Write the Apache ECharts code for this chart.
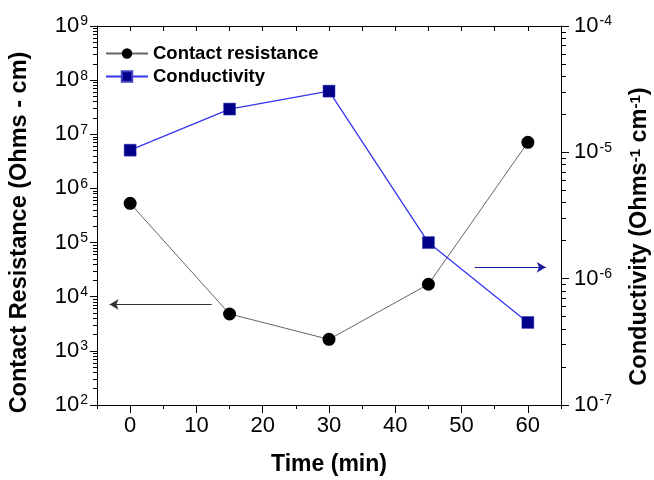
<!DOCTYPE html>
<html>
<head>
<meta charset="utf-8">
<script src="https://cdn.jsdelivr.net/npm/echarts@6/dist/echarts.min.js"></script>
<style>html,body{margin:0;padding:0;background:#fff}#c{width:654px;height:480px}</style>
</head>
<body>
<div id="c"></div>
<script>
// Data
var times = [0, 15, 30, 45, 60];
var contactResistance = [5.3e5, 4.8e3, 1.63e3, 1.7e4, 7.1e6];
var conductivity = [1.04e-5, 2.2e-5, 3.05e-5, 1.93e-6, 4.5e-7];
var xTickLabels = [0, 10, 20, 30, 40, 50, 60];
var leftExponents = [2, 3, 4, 5, 6, 7, 8, 9];
var rightExponents = [-7, -6, -5, -4];
// Arrow annotations (data coords)
var leftArrow = [[12.3, 7.2e3], [-3.1, 7.2e3]];
var rightArrow = [[52.0, 1.23e-6], [62.7, 1.23e-6]];

var FONT = 'Liberation Sans, Arial, sans-serif';
var TICK = '#000';

function minorLog(lo, hi) {
  var out = [];
  for (var n = lo; n < hi; n++) {
    for (var k = 2; k <= 9; k++) out.push(n + Math.log10(k));
  }
  return out;
}
function expLabel(v) {
  var e = Math.round(Math.log10(v));
  return '{b|10}{s|' + e + '}';
}
var richLab = {
  b: { fontSize: 22, fontFamily: FONT, color: '#000' },
  s: { fontSize: 14, fontFamily: FONT, color: '#000', verticalAlign: 'top', padding: [0, 0, 9, 1] }
};

var chart = echarts.init(document.getElementById('c'), null, { renderer: 'canvas' });
chart.setOption({
  animation: false,
  backgroundColor: '#fff',
  grid: { left: 97, right: 93, top: 26, bottom: 75, containLabel: false, outerBoundsMode: 'none' },
  legend: {
    orient: 'vertical', left: 105, top: 44, padding: 0, itemWidth: 42, itemHeight: 13, itemGap: 4,
    textStyle: { fontFamily: FONT, fontWeight: 'bold', fontSize: 18.5, color: '#000' },
    data: ['Contact resistance', 'Conductivity']
  },
  xAxis: [
    {
      type: 'value', min: -5, max: 65, interval: 5, position: 'bottom',
      name: 'Time (min)', nameLocation: 'middle', nameGap: 48,
      nameTextStyle: { fontFamily: FONT, fontWeight: 'bold', fontSize: 23, color: '#000' },
      axisLine: { show: true, onZero: false, lineStyle: { color: '#000', width: 1 } },
      axisTick: { show: true, inside: false, length: 8, customValues: xTickLabels, lineStyle: { color: TICK } },
      axisLabel: { show: true, customValues: xTickLabels, margin: 10, fontFamily: FONT, fontSize: 22, color: '#000' },
      splitLine: { show: false }
    },
    {
      type: 'value', min: -5, max: 65, interval: 5, position: 'bottom',
      axisLine: { show: false, onZero: false },
      axisTick: { show: true, inside: false, length: 4, lineStyle: { color: TICK } },
      axisLabel: { show: false }, splitLine: { show: false }
    },
    {
      type: 'value', min: -5, max: 65, interval: 5, position: 'top',
      axisLine: { show: true, onZero: false, lineStyle: { color: '#000', width: 1 } },
      axisTick: { show: true, inside: true, length: 5, lineStyle: { color: TICK } },
      axisLabel: { show: false }, splitLine: { show: false }
    }
  ],
  yAxis: [
    {
      type: 'log', logBase: 10, min: 1e2, max: 1e9, position: 'left',
      name: 'Contact Resistance (Ohms - cm)', nameLocation: 'middle', nameGap: 65, nameRotate: 90,
      nameTextStyle: { fontFamily: FONT, fontWeight: 'bold', fontSize: 23.5, color: '#000', padding: [0, 34, 0, 0] },
      axisLine: { show: true, onZero: false, lineStyle: { color: '#000', width: 1 } },
      axisTick: { show: true, inside: false, length: 7, lineStyle: { color: TICK } },
      axisLabel: { show: true, margin: 9, formatter: expLabel, rich: richLab },
      splitLine: { show: false }
    },
    {
      type: 'log', logBase: 10, min: 1e-7, max: 1e-4, position: 'right',
      name: 'Conductivity (Ohms{s|-1} cm{s|-1})', nameLocation: 'middle', nameGap: 67, nameRotate: 90,
      nameTextStyle: {
        fontFamily: FONT, fontWeight: 'bold', fontSize: 23.5, color: '#000', padding: [0, 42, 0, 0],
        rich: { s: { fontFamily: FONT, fontWeight: 'bold', fontSize: 15, color: '#000', verticalAlign: 'top', padding: [0, 0, 9, 0] } }
      },
      axisLine: { show: true, onZero: false, lineStyle: { color: '#000', width: 1 } },
      axisTick: { show: true, inside: false, length: 8, lineStyle: { color: TICK } },
      axisLabel: { show: true, margin: 13, formatter: expLabel, rich: richLab },
      splitLine: { show: false }
    },
    {
      type: 'value', min: 2, max: 9, position: 'left',
      axisLine: { show: false, onZero: false },
      axisTick: { show: true, inside: false, length: 4, customValues: minorLog(2, 9), lineStyle: { color: TICK } },
      axisLabel: { show: false }, splitLine: { show: false }
    },
    {
      type: 'value', min: -7, max: -4, position: 'right',
      axisLine: { show: false, onZero: false },
      axisTick: { show: true, inside: false, length: 5, customValues: minorLog(-7, -4), lineStyle: { color: TICK } },
      axisLabel: { show: false }, splitLine: { show: false }
    }
  ],
  series: [
    {
      name: 'Contact resistance', type: 'line', xAxisIndex: 0, yAxisIndex: 0,
      data: times.map(function (t, i) { return [t, contactResistance[i]]; }),
      symbol: 'circle', symbolSize: 13,
      lineStyle: { color: '#666', width: 1 },
      itemStyle: { color: '#000', borderColor: '#000', borderWidth: 0 },
      z: 3,
      markLine: {
        silent: true, symbol: ['none', 'arrow'], symbolSize: [8, 9],
        label: { show: false },
        lineStyle: { color: '#333', width: 1, type: 'solid' },
        data: [[{ coord: leftArrow[0] }, { coord: leftArrow[1] }]]
      }
    },
    {
      name: 'Conductivity', type: 'line', xAxisIndex: 0, yAxisIndex: 1,
      data: times.map(function (t, i) { return [t, conductivity[i]]; }),
      symbol: 'rect', symbolSize: 12,
      lineStyle: { color: '#3535f0', width: 1.3 },
      itemStyle: { color: '#000088', borderColor: '#4040c0', borderWidth: 0.5 },
      z: 3,
      markLine: {
        silent: true, symbol: ['none', 'arrow'], symbolSize: [8, 9],
        label: { show: false },
        lineStyle: { color: '#1a1aa0', width: 1, type: 'solid' },
        data: [[{ coord: rightArrow[0] }, { coord: rightArrow[1] }]]
      }
    }
  ]
});
</script>
</body>
</html>
